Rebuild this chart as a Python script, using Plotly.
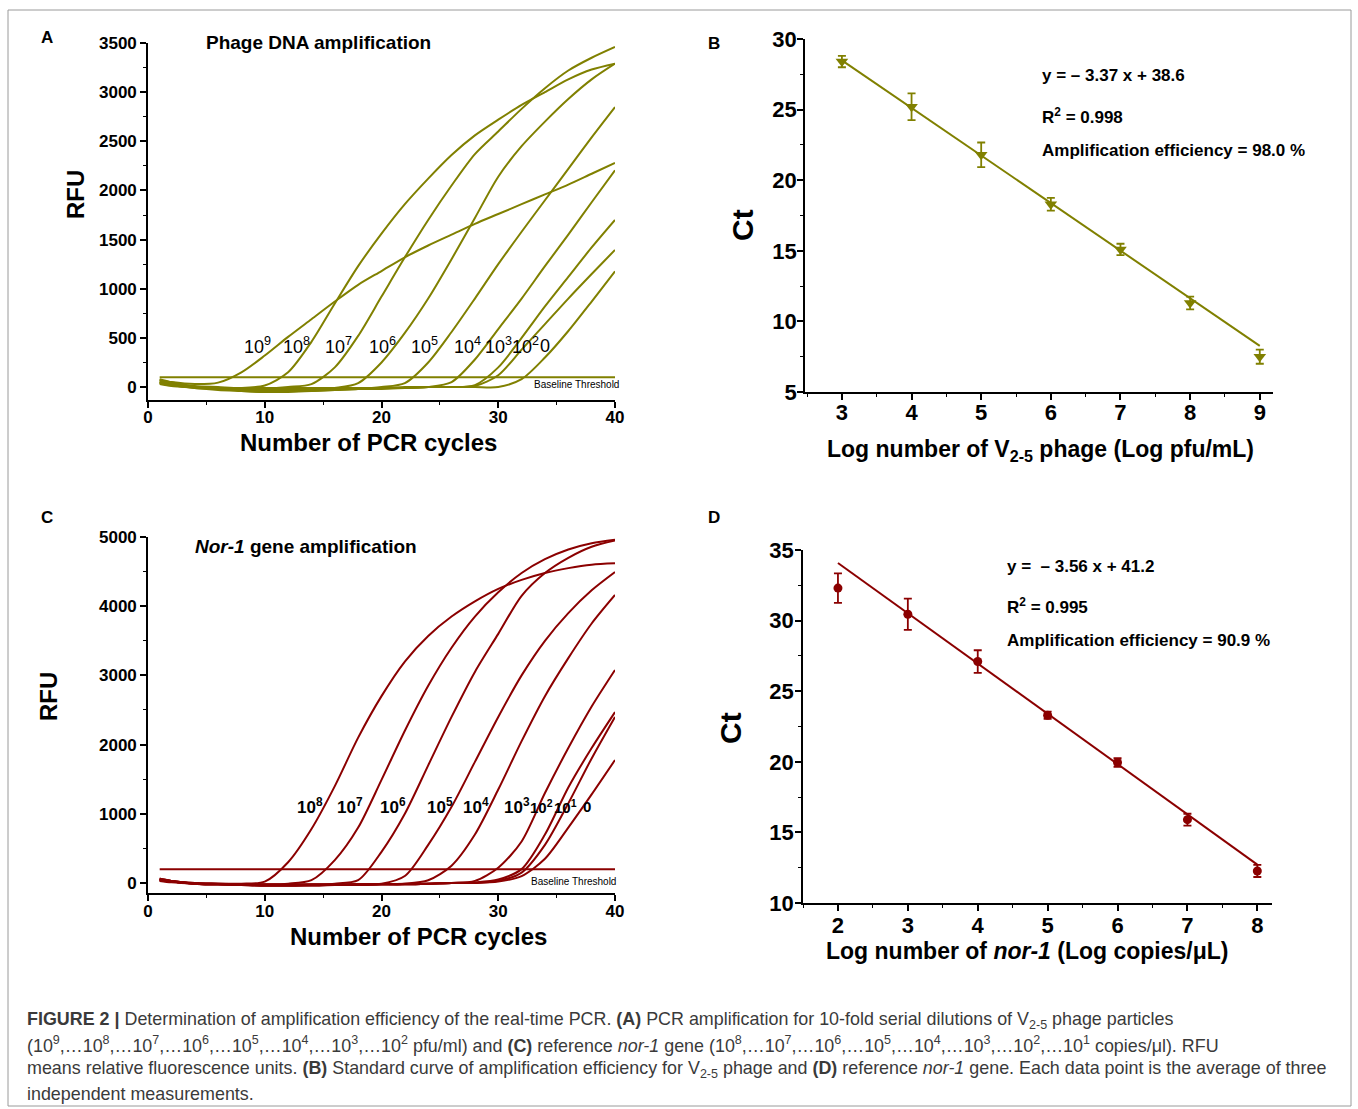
import plotly.graph_objects as go

# ---------------- data ----------------
cycles = [1, 2, 4, 6, 8, 10, 12, 14, 16, 18, 20, 22, 24, 26, 28, 30, 32, 34, 36, 38, 40]

# Panel A: phage DNA amplification (RFU per cycle)
phage_labels = ["10<sup>9</sup>", "10<sup>8</sup>", "10<sup>7</sup>", "10<sup>6</sup>", "10<sup>5</sup>",
                "10<sup>4</sup>", "10<sup>3</sup>", "10<sup>2</sup>", "0"]
phage_1e9 = [70, 50, 30, 45, 150, 320, 510, 690, 870, 1040, 1180, 1320, 1440, 1550, 1660, 1760, 1860, 1960, 2060, 2170, 2280]
phage_1e8 = [80, 50, 10, 0, -10, 15, 150, 460, 850, 1230, 1560, 1860, 2120, 2360, 2560, 2720, 2870, 3000, 3130, 3230, 3290]
phage_1e7 = [70, 40, 0, -20, -30, -20, 0, 30, 200, 520, 920, 1320, 1700, 2050, 2370, 2600, 2830, 3040, 3220, 3350, 3460]
phage_1e6 = [60, 30, 0, -20, -40, -50, -40, -30, -10, 40, 250, 550, 900, 1300, 1720, 2140, 2450, 2700, 2930, 3130, 3290]
phage_1e5 = [50, 20, -10, -30, -40, -50, -50, -40, -30, -20, 0, 40, 250, 560, 900, 1250, 1580, 1900, 2220, 2540, 2848]
phage_1e4 = [50, 20, -10, -20, -30, -40, -40, -40, -30, -20, -20, -10, 0, 50, 280, 590, 900, 1230, 1550, 1880, 2205]
phage_1e3 = [40, 20, 0, -10, -20, -20, -20, -20, -20, -20, -10, -10, 0, 0, 20, 200, 500, 820, 1120, 1420, 1700]
phage_1e2 = [40, 20, 0, -10, -10, -20, -20, -20, -20, -10, -10, -10, 0, 0, 10, 120, 380, 640, 900, 1150, 1395]
phage_0 = [30, 10, 0, -10, -10, -10, -10, -10, -10, -10, -10, 0, 0, 0, 0, 0, 80, 300, 570, 870, 1178]
phage_threshold = 100

# Panel C: nor-1 gene amplification (RFU per cycle)
nor_labels = ["10<sup>8</sup>", "10<sup>7</sup>", "10<sup>6</sup>", "10<sup>5</sup>", "10<sup>4</sup>",
              "10<sup>3</sup>", "10<sup>2</sup>", "10<sup>1</sup>", "0"]
nor_1e8 = [60, 30, 0, -10, -10, 20, 300, 780, 1400, 2100, 2700, 3200, 3570, 3850, 4070, 4250, 4380, 4480, 4550, 4600, 4620]
nor_1e7 = [60, 30, 0, -10, -20, -20, -10, 40, 330, 800, 1490, 2200, 2850, 3400, 3850, 4200, 4480, 4680, 4820, 4910, 4960]
nor_1e6 = [60, 30, 0, -10, -20, -30, -30, -20, -10, 40, 450, 1000, 1700, 2400, 3050, 3600, 4150, 4480, 4700, 4860, 4950]
nor_1e5 = [50, 20, -10, -20, -30, -40, -40, -30, -30, -20, -10, 100, 550, 1100, 1750, 2400, 3000, 3500, 3900, 4230, 4494]
nor_1e4 = [50, 20, -10, -20, -30, -40, -40, -40, -30, -30, -20, -10, 40, 250, 700, 1350, 2050, 2700, 3250, 3750, 4162]
nor_1e3 = [40, 20, -10, -20, -30, -30, -30, -30, -30, -30, -20, -20, -10, 0, 30, 220, 600, 1300, 1950, 2550, 3078]
nor_1e2 = [40, 20, -10, -20, -20, -30, -30, -30, -30, -20, -20, -20, -10, 0, 10, 50, 200, 700, 1380, 1950, 2470]
nor_1e1 = [40, 20, -10, -20, -20, -30, -30, -30, -30, -20, -20, -20, -10, 0, 0, 30, 150, 550, 1150, 1800, 2400]
nor_0 = [30, 10, -10, -20, -20, -20, -20, -20, -20, -20, -20, -10, -10, 0, 0, 20, 100, 350, 800, 1280, 1777]
nor_threshold = 200

# Panel B: standard curve, V2-5 phage
log_phage = [3, 4, 5, 6, 7, 8, 9]
ct_phage = [28.4, 25.2, 21.8, 18.3, 15.1, 11.3, 7.5]
err_phage = [0.4, 0.95, 0.87, 0.45, 0.4, 0.45, 0.5]
phage_slope, phage_intercept = -3.37, 38.6

# Panel D: standard curve, nor-1
log_nor = [2, 3, 4, 5, 6, 7, 8]
ct_nor = [32.3, 30.45, 27.1, 23.3, 19.95, 15.9, 12.27]
err_nor = [1.05, 1.1, 0.8, 0.25, 0.3, 0.42, 0.43]
nor_slope, nor_intercept = -3.56, 41.2

# ---------------- style / layout ----------------
W, H = 1358, 1109
FONT = "Liberation Sans, Arial, sans-serif"
OLIVE = "#808000"
RED = "#8b0000"


def px(x):
    return x / W


def py(y):
    return 1 - y / H


fig = go.Figure()

phage_series = [phage_1e9, phage_1e8, phage_1e7, phage_1e6, phage_1e5, phage_1e4, phage_1e3, phage_1e2, phage_0]
for s in phage_series:
    fig.add_trace(go.Scatter(x=cycles, y=s, mode="lines", xaxis="x", yaxis="y",
                             line=dict(color=OLIVE, width=2, shape="spline", smoothing=0.8),
                             hoverinfo="skip"))
fig.add_trace(go.Scatter(x=[cycles[0], cycles[-1]], y=[phage_threshold, phage_threshold], mode="lines",
                         xaxis="x", yaxis="y", line=dict(color=OLIVE, width=2), hoverinfo="skip"))

nor_series = [nor_1e8, nor_1e7, nor_1e6, nor_1e5, nor_1e4, nor_1e3, nor_1e2, nor_1e1, nor_0]
for s in nor_series:
    fig.add_trace(go.Scatter(x=cycles, y=s, mode="lines", xaxis="x3", yaxis="y3",
                             line=dict(color=RED, width=2, shape="spline", smoothing=0.8),
                             hoverinfo="skip"))
fig.add_trace(go.Scatter(x=[cycles[0], cycles[-1]], y=[nor_threshold, nor_threshold], mode="lines",
                         xaxis="x3", yaxis="y3", line=dict(color=RED, width=2), hoverinfo="skip"))

# Panel B
fit_bx = [log_phage[0], log_phage[-1]]
fig.add_trace(go.Scatter(x=fit_bx, y=[phage_slope * v + phage_intercept for v in fit_bx], mode="lines",
                         xaxis="x2", yaxis="y2", line=dict(color=OLIVE, width=2), hoverinfo="skip"))
fig.add_trace(go.Scatter(x=log_phage, y=ct_phage, mode="markers", xaxis="x2", yaxis="y2",
                         marker=dict(symbol="triangle-down", size=11, color=OLIVE),
                         error_y=dict(type="data", array=err_phage, color=OLIVE, thickness=1.8, width=4),
                         hoverinfo="skip"))

# Panel D
fit_dx = [log_nor[0], log_nor[-1]]
fig.add_trace(go.Scatter(x=fit_dx, y=[nor_slope * v + nor_intercept for v in fit_dx], mode="lines",
                         xaxis="x4", yaxis="y4", line=dict(color=RED, width=2), hoverinfo="skip"))
fig.add_trace(go.Scatter(x=log_nor, y=ct_nor, mode="markers", xaxis="x4", yaxis="y4",
                         marker=dict(symbol="circle", size=9, color=RED),
                         error_y=dict(type="data", array=err_nor, color=RED, thickness=1.8, width=4),
                         hoverinfo="skip"))


def axis(domain, rng, dtick, minor, size, anchor, standoff=0):
    return dict(domain=domain, range=rng, anchor=anchor, showline=True, linecolor="black", linewidth=1.6,
                ticks="outside", ticklen=6, tickwidth=1.6, tickcolor="black", showgrid=False,
                zeroline=False, dtick=dtick, tick0=0, fixedrange=True, automargin=False,
                ticklabelstandoff=standoff,
                minor=dict(dtick=minor, ticklen=3.5, tickwidth=1.3, tickcolor="black", ticks="outside",
                           showgrid=False),
                tickfont=dict(family=FONT, size=size, color="black", weight="bold"))


xa_dom = [px(148), px(615)]
fig.update_layout(
    template="none",
    width=W, height=H, autosize=False,
    margin=dict(l=0, r=0, t=0, b=0, pad=0),
    paper_bgcolor="white", plot_bgcolor="white", showlegend=False,
    xaxis=axis(xa_dom, [0, 40], 10, 5, 17, "y", -5),
    yaxis=axis([py(400), py(43)], [-132, 3500], 500, 250, 17, "x"),
    xaxis2=axis([px(805), px(1273)], [2.47, 9.19], 1, 0.5, 22, "y2", -6),
    yaxis2=axis([py(392), py(39)], [5, 30], 5, 2.5, 22, "x2", -4),
    xaxis3=axis(xa_dom, [0, 40], 10, 5, 17, "y3", -4),
    yaxis3=axis([py(893), py(537)], [-145, 5000], 1000, 500, 17, "x3"),
    xaxis4=axis([px(803), px(1272)], [1.5, 8.21], 1, 0.5, 22, "y4", -4),
    yaxis4=axis([py(903), py(550)], [10, 35], 5, 2.5, 22, "x4", -3),
)

ann = []


def text(x, y, t, size, bold=True, xanchor="center", angle=0, color="black", ref=("paper", "paper")):
    ann.append(dict(x=x, y=y, xref=ref[0], yref=ref[1], text=t, showarrow=False, xanchor=xanchor,
                    yanchor="middle", textangle=angle,
                    font=dict(family=FONT, size=size, color=color, weight="bold" if bold else "normal")))


# panel letters
text(px(47), py(38), "A", 17)
text(px(714), py(43), "B", 17)
text(px(47), py(517), "C", 17)
text(px(714), py(517), "D", 17)

# Panel A texts
text(px(204), py(42), "Phage DNA amplification", 19, xanchor="left")
text(px(75), py(195), "RFU", 24, angle=-90)
text(px(369), py(442), "Number of PCR cycles", 24)
text(px(621), py(384), "Baseline Threshold", 10, bold=False, xanchor="right")
phage_label_x = [9.4, 12.7, 16.3, 20.1, 23.7, 27.4, 30.0, 32.3, 34.0]
for lx, lab in zip(phage_label_x, phage_labels):
    text(lx, 420, lab, 18, bold=False, ref=("x", "y"))

# Panel C texts
text(px(193), py(546), "<i>Nor-1</i> gene amplification", 19, xanchor="left")
text(px(48), py(697), "RFU", 24, angle=-90)
text(px(418), py(936), "Number of PCR cycles", 24)
text(px(618), py(881), "Baseline Threshold", 10, bold=False, xanchor="right")
nor_label_x = [13.9, 17.3, 21.0, 25.0, 28.1, 31.6, 33.7, 35.8, 37.6]
nor_label_size = [17, 17, 17, 17, 17, 17, 15, 15, 15]
for lx, lab, sz in zip(nor_label_x, nor_labels, nor_label_size):
    text(lx, 1110, lab, sz, ref=("x3", "y3"))

# Panel B texts
text(px(742), py(225), "Ct", 30, angle=-90)
text(px(1040), py(451), "Log number of V<sub>2-5</sub> phage (Log pfu/mL)", 23)
text(px(1040), py(75), "y = – 3.37 x + 38.6", 17, xanchor="left")
text(px(1040), py(116), "R<sup>2</sup> = 0.998", 17, xanchor="left")
text(px(1040), py(150), "Amplification efficiency = 98.0 %", 17, xanchor="left")

# Panel D texts
text(px(730), py(728), "Ct", 30, angle=-90)
text(px(1027), py(951), "Log number of <i>nor-1</i> (Log copies/μL)", 23)
text(px(1005), py(566), "y =  – 3.56 x + 41.2", 17, xanchor="left")
text(px(1005), py(606), "R<sup>2</sup> = 0.995", 17, xanchor="left")
text(px(1005), py(640), "Amplification efficiency = 90.9 %", 17, xanchor="left")

# caption
CAP = "#3a3a3a"
cap_lines = [
    "<b>FIGURE 2 |</b> Determination of amplification efficiency of the real-time PCR. <b>(A)</b> PCR amplification for 10-fold serial dilutions of V<sub>2-5</sub> phage particles",
    "(10<sup>9</sup>,…10<sup>8</sup>,…10<sup>7</sup>,…10<sup>6</sup>,…10<sup>5</sup>,…10<sup>4</sup>,…10<sup>3</sup>,…10<sup>2</sup> pfu/ml) and <b>(C)</b> reference <i>nor-1</i> gene (10<sup>8</sup>,…10<sup>7</sup>,…10<sup>6</sup>,…10<sup>5</sup>,…10<sup>4</sup>,…10<sup>3</sup>,…10<sup>2</sup>,…10<sup>1</sup> copies/μl). RFU",
    "means relative fluorescence units. <b>(B)</b> Standard curve of amplification efficiency for V<sub>2-5</sub> phage and <b>(D)</b> reference <i>nor-1</i> gene. Each data point is the average of three",
    "independent measurements.",
]
for i, line in enumerate(cap_lines):
    text(px(25), py(1020 + 24.7 * i), line, 17.9, bold=False, xanchor="left", color=CAP)

fig.update_layout(annotations=ann)
fig.add_shape(type="rect", xref="paper", yref="paper", x0=px(8), x1=px(1351), y0=py(1106), y1=py(10),
              line=dict(color="#9a9a9a", width=1))

fig.write_html("out.html", config={"displayModeBar": False},
               post_script="document.body.style.margin='0';document.body.style.padding='0';"
                           "document.documentElement.style.overflow='hidden';"
                           "document.body.style.overflow='hidden';")
